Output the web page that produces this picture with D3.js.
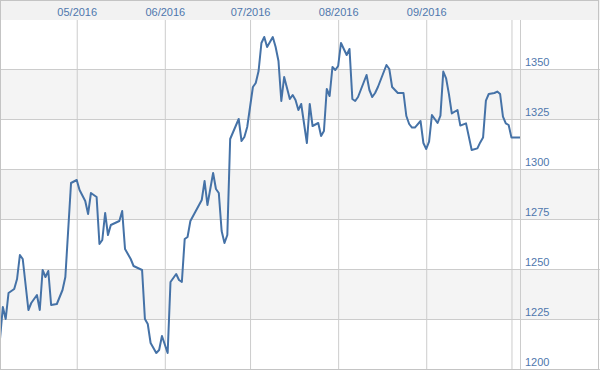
<!DOCTYPE html>
<html>
<head>
<meta charset="utf-8">
<script src="https://cdn.jsdelivr.net/npm/d3@7"></script>
<style>
body { margin: 0; background: #fff; }
svg { display: block; font-family: "Liberation Sans", Arial, sans-serif; }
</style>
</head>
<body>
<div id="chart"></div>
<script>
// price readings, one per date
var dates = [
    "2016-04-04", "2016-04-05", "2016-04-06", "2016-04-07", "2016-04-09", "2016-04-10",
    "2016-04-11", "2016-04-12", "2016-04-14", "2016-04-15", "2016-04-17", "2016-04-18",
    "2016-04-19", "2016-04-20", "2016-04-21", "2016-04-22", "2016-04-24", "2016-04-26",
    "2016-04-27", "2016-04-29", "2016-05-01", "2016-05-02", "2016-05-04", "2016-05-05",
    "2016-05-06", "2016-05-08", "2016-05-09", "2016-05-10", "2016-05-11", "2016-05-12",
    "2016-05-13", "2016-05-16", "2016-05-17", "2016-05-18", "2016-05-20", "2016-05-21",
    "2016-05-24", "2016-05-25", "2016-05-26", "2016-05-27", "2016-05-29", "2016-05-30",
    "2016-05-31", "2016-06-02", "2016-06-03", "2016-06-05", "2016-06-06", "2016-06-07",
    "2016-06-08", "2016-06-09", "2016-06-10", "2016-06-14", "2016-06-15", "2016-06-16",
    "2016-06-18", "2016-06-19", "2016-06-20", "2016-06-21", "2016-06-22", "2016-06-23",
    "2016-06-24", "2016-06-27", "2016-06-28", "2016-06-29", "2016-06-30", "2016-07-02",
    "2016-07-03", "2016-07-04", "2016-07-05", "2016-07-06", "2016-07-07", "2016-07-09",
    "2016-07-10", "2016-07-11", "2016-07-12", "2016-07-13", "2016-07-15", "2016-07-16",
    "2016-07-17", "2016-07-18", "2016-07-19", "2016-07-21", "2016-07-22", "2016-07-23",
    "2016-07-25", "2016-07-26", "2016-07-27", "2016-07-28", "2016-07-29", "2016-07-30",
    "2016-07-31", "2016-08-01", "2016-08-02", "2016-08-04", "2016-08-05", "2016-08-06",
    "2016-08-07", "2016-08-08", "2016-08-11", "2016-08-12", "2016-08-13", "2016-08-14",
    "2016-08-15", "2016-08-18", "2016-08-19", "2016-08-20", "2016-08-22", "2016-08-24",
    "2016-08-25", "2016-08-26", "2016-08-27", "2016-08-28", "2016-08-30", "2016-08-31",
    "2016-09-01", "2016-09-02", "2016-09-03", "2016-09-05", "2016-09-06", "2016-09-07",
    "2016-09-08", "2016-09-09", "2016-09-10", "2016-09-12", "2016-09-13", "2016-09-15",
    "2016-09-17", "2016-09-19", "2016-09-20", "2016-09-21", "2016-09-22", "2016-09-23",
    "2016-09-25", "2016-09-26", "2016-09-27", "2016-09-28", "2016-09-29", "2016-09-30",
    "2016-10-01", "2016-10-04"
];
var prices = [
    1215, 1231, 1225, 1238, 1240, 1245,
    1257, 1255, 1229.5, 1233, 1237, 1229.5,
    1249.5, 1246, 1249, 1232, 1232.5, 1239.5,
    1246, 1293, 1294.5, 1289.5, 1284, 1277.5,
    1288, 1286, 1262.5, 1264.5, 1278, 1267,
    1272, 1274, 1279, 1260, 1255, 1251.5,
    1249.5, 1225, 1222.5, 1213, 1208, 1209.5,
    1216.5, 1208, 1243.5, 1247.5, 1244.5, 1243.5,
    1265, 1266, 1274, 1284.5, 1294, 1282,
    1298, 1290, 1288, 1269, 1263, 1267,
    1315, 1325, 1314, 1316, 1321, 1341,
    1343, 1349, 1363, 1366, 1361, 1366,
    1361, 1354, 1334, 1346, 1335, 1337,
    1334.5, 1329.5, 1332.5, 1313, 1332.5, 1321.5,
    1323, 1316.5, 1319, 1340, 1336.5, 1351,
    1349.5, 1351.5, 1363, 1357, 1360, 1335,
    1334, 1336, 1347, 1339.5, 1336, 1338,
    1341, 1352, 1350, 1341, 1338, 1338,
    1326.5, 1322.5, 1320.7, 1320.7, 1324, 1313,
    1310, 1313.7, 1327, 1323, 1326.7, 1348.7,
    1345.3, 1337.3, 1327.8, 1329.5, 1321.7, 1322.8,
    1309.5, 1310.3, 1313.3, 1315.7, 1334.2, 1337.5,
    1338, 1338.7, 1337.5, 1326.2, 1322.8, 1322,
    1315.7, 1315.7
];

var monthTicks = ["2016-05-01", "2016-06-01", "2016-07-01", "2016-08-01", "2016-09-01", "2016-10-01"];
var monthLabels = ["05/2016", "06/2016", "07/2016", "08/2016", "09/2016", ""];
var priceTicks = [1200, 1225, 1250, 1275, 1300, 1325, 1350];

var width = 600, height = 371,
    plot = {left: 0, right: 520, top: 20, bottom: 369};

var parse = d3.timeParse("%Y-%m-%d");
var data = dates.map(function (d, i) {
    return {date: parse(d), value: prices[i]};
});

var x = d3.scaleTime()
    .domain([parse("2016-04-04"), parse("2016-10-04")])
    .range([plot.left, plot.right]);
var y = d3.scaleLinear()
    .domain([1200, 1374.5])
    .range([plot.bottom, plot.top]);

var svg = d3.select("#chart")
    .append("svg")
    .attr("width", width)
    .attr("height", height);

// header strip for the month labels
svg.append("rect")
    .attr("x", 0).attr("y", 0)
    .attr("width", width).attr("height", plot.top)
    .attr("fill", "#f2f2f2");

// alternating bands
svg.append("g").selectAll("rect")
    .data(priceTicks.filter(function (d, i) { return i % 2 == 1; }))
    .enter().append("rect")
    .attr("x", 0)
    .attr("y", function (d) { return y(d + 25); })
    .attr("width", width)
    .attr("height", function (d) { return y(d) - y(d + 25); })
    .attr("fill", "#f4f4f4");

// horizontal grid
svg.append("g").selectAll("line")
    .data(priceTicks)
    .enter().append("line")
    .attr("x1", 0).attr("x2", width)
    .attr("y1", function (d) { return Math.round(y(d)) + 0.5; })
    .attr("y2", function (d) { return Math.round(y(d)) + 0.5; })
    .attr("stroke", "#cccccc");

// month axis on top, ticks used as vertical grid
var xAxis = svg.append("g")
    .attr("transform", "translate(0," + plot.top + ")")
    .call(d3.axisTop(x)
        .tickValues(monthTicks.map(parse))
        .tickSize(-(plot.bottom - plot.top))
        .tickPadding(4.5)
        .tickFormat(function (d, i) { return monthLabels[i]; }));
xAxis.select(".domain").remove();
xAxis.selectAll(".tick line").attr("stroke", "#cccccc");
xAxis.selectAll(".tick text")
    .attr("fill", "#4f77ad")
    .style("font-size", "11px")
    .style("font-family", "'Liberation Sans', Arial, sans-serif");

// separator between plot and price scale
svg.append("line")
    .attr("x1", plot.right + 0.5).attr("x2", plot.right + 0.5)
    .attr("y1", plot.top).attr("y2", plot.bottom)
    .attr("stroke", "#cccccc");

// price labels
svg.append("g").selectAll("text")
    .data(priceTicks)
    .enter().append("text")
    .attr("x", plot.right + 5)
    .attr("y", function (d) { return y(d) - 3.5; })
    .attr("fill", "#4f77ad")
    .style("font-size", "11px")
    .text(function (d) { return d; });

// price line
var line = d3.line()
    .x(function (d) { return x(d.date); })
    .y(function (d) { return y(d.value); });

svg.append("path")
    .datum(data)
    .attr("d", line)
    .attr("fill", "none")
    .attr("stroke", "#4572a7")
    .attr("stroke-width", 2)
    .attr("stroke-linejoin", "round");

// outer frame
svg.append("rect")
    .attr("x", 0.5).attr("y", 0.5)
    .attr("width", 598).attr("height", 369)
    .attr("fill", "none")
    .attr("stroke", "#c4c4c4");
</script>
</body>
</html>
